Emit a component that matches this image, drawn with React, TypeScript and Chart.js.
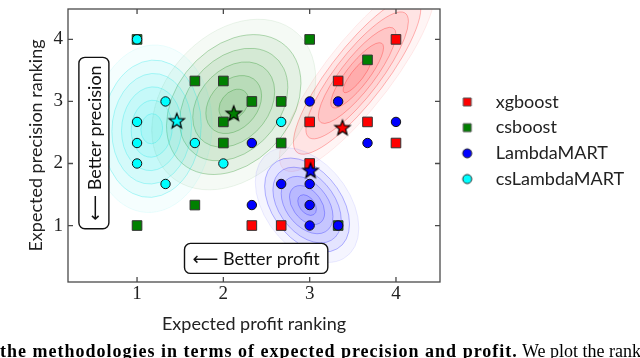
import React, { useEffect, useRef } from 'react';
import { Chart, registerables } from 'chart.js';
Chart.register(...registerables);

// ---------- data ----------
const methodNames = ['xgboost', 'csboost', 'LambdaMART', 'csLambdaMART'];
const methodColors = ['#ff0000', '#008000', '#0000ff', '#00ffff'];
const methodRGB = ['255,0,0', '0,128,0', '0,0,255', '0,230,230'];
const methodShapes = ['rect', 'rect', 'circle', 'circle'];

const xgboostX = [4, 3.33, 3, 3.67, 4, 3, 2.33, 2.67];
const xgboostY = [4, 3.33, 2.67, 2.67, 2.33, 2, 1, 1];
const csboostX = [1.67, 2, 3, 3.67, 2.33, 2.67, 2, 2, 2.67, 1.67, 1, 1, 3.33];
const csboostY = [3.33, 3.33, 4, 3.67, 3, 3, 2.67, 2.33, 2.33, 1.33, 1, 4, 1];
const lambdaMartX = [2.33, 3, 3.33, 4, 3.67, 2.33, 2.67, 3, 3, 3, 3.33];
const lambdaMartY = [2.33, 3, 3, 2.67, 2.33, 1.33, 1.67, 1.67, 1.33, 1, 1];
const csLambdaMartX = [1, 1.33, 1, 1, 1.67, 2.67, 1, 2, 1.33];
const csLambdaMartY = [4, 3, 2.67, 2.33, 2.33, 2.67, 2, 2, 1.67];

// mean positions (stars)
const meanX = [3.38, 2.12, 3.01, 1.46];
const meanY = [2.58, 2.81, 1.89, 2.69];

// density blobs (approximate KDE shapes)
const blobX = [3.55, 2.12, 2.97, 1.17];
const blobY = [3.42, 2.95, 1.33, 2.56];
const blobSdX = [0.36, 0.38, 0.24, 0.28];
const blobSdY = [0.62, 0.55, 0.37, 0.54];
const blobRho = [0.85, 0.3, -0.4, 0.05];
const blobLevels = [2.5, 2.05, 1.65, 1.25, 0.85, 0.45];

const xTicks = [1, 2, 3, 4];
const yTicks = [1, 2, 3, 4];
const xMin = 0.2, xMax = 4.51, yMin = 0.09, yMax = 4.49;

const annotationText = ['\u27F5 Better profit', '\u27F5 Better precision'];
const annotationX = [2.38, 0.5];
const annotationY = [0.47, 2.33];
const annotationRotation = [0, 90];

const seriesX = [xgboostX, csboostX, lambdaMartX, csLambdaMartX];
const seriesY = [xgboostY, csboostY, lambdaMartY, csLambdaMartY];

const LABEL_FONT = 'Lato';
const AREA = { left: 68, right: 440, top: 1, bottom: 282 };
const LEGEND_SHIFT = -5;

function makeMarker(shape: string, color: string, size: number, border: string) {
  const c = document.createElement('canvas');
  const s = Math.ceil(size + 4);
  c.width = s; c.height = s;
  const g = c.getContext('2d')!;
  g.fillStyle = color; g.strokeStyle = border; g.lineWidth = 1;
  g.beginPath();
  if (shape === 'rect') g.rect(s / 2 - size / 2, s / 2 - size / 2, size, size);
  else g.arc(s / 2, s / 2, size / 2, 0, Math.PI * 2);
  g.fill(); g.stroke();
  return c;
}

function makeStar(color: string) {
  const c = document.createElement('canvas');
  c.width = 20; c.height = 20;
  const g = c.getContext('2d')!;
  const R = 8, r = 3.4;
  g.beginPath();
  for (let i = 0; i < 10; i++) {
    const ang = -Math.PI / 2 + (i * Math.PI) / 5;
    const rad = i % 2 === 0 ? R : r;
    const px = 10 + rad * Math.cos(ang), py = 10.6 + rad * Math.sin(ang);
    if (i === 0) g.moveTo(px, py); else g.lineTo(px, py);
  }
  g.closePath();
  g.fillStyle = color; g.fill();
  g.strokeStyle = '#000'; g.lineWidth = 1.2; g.lineJoin = 'miter'; g.stroke();
  return c;
}

const kdePlugin = {
  id: 'kde',
  afterLayout(chart: any) {
    if (chart.legend) {
      chart.legend.top += LEGEND_SHIFT;
      chart.legend.bottom += LEGEND_SHIFT;
    }
  },
  beforeDatasetsDraw(chart: any) {
    const { ctx, chartArea, scales } = chart;
    const sx = scales.x, sy = scales.y;
    const kx = sx.getPixelForValue(1) - sx.getPixelForValue(0);
    const ky = sy.getPixelForValue(0) - sy.getPixelForValue(1);
    ctx.save();
    ctx.beginPath();
    ctx.rect(chartArea.left, chartArea.top, chartArea.width, chartArea.height);
    ctx.clip();
    for (let i = 0; i < blobX.length; i++) {
      const cx = sx.getPixelForValue(blobX[i]);
      const cy = sy.getPixelForValue(blobY[i]);
      const a = blobSdX[i] * kx;
      const b = -blobRho[i] * blobSdY[i] * ky;
      const c = 0;
      const d = -blobSdY[i] * Math.sqrt(1 - blobRho[i] * blobRho[i]) * ky;
      blobLevels.forEach((r, li) => {
        ctx.save();
        ctx.transform(a, b, c, d, cx, cy);
        ctx.beginPath();
        ctx.arc(0, 0, r, 0, Math.PI * 2);
        ctx.restore();
        ctx.fillStyle = `rgba(${methodRGB[i]},${li === 0 ? 0.04 : 0.07})`;
        ctx.fill();
        ctx.strokeStyle = `rgba(${methodRGB[i]},${li === 0 ? 0.08 : 0.28})`;
        ctx.lineWidth = 1;
        ctx.stroke();
      });
    }
    ctx.restore();
  },
};

const framePlugin = {
  id: 'frame',
  afterDraw(chart: any) {
    const { ctx, chartArea, scales } = chart;
    const { left, right, top, bottom } = chartArea;
    ctx.save();
    ctx.strokeStyle = '#4a4a4a';
    ctx.lineWidth = 1.3;
    ctx.strokeRect(left, top, right - left, bottom - top);
    const tl = 5;
    ctx.beginPath();
    xTicks.forEach((v) => {
      const p = scales.x.getPixelForValue(v);
      ctx.moveTo(p, bottom); ctx.lineTo(p, bottom - tl);
      ctx.moveTo(p, top); ctx.lineTo(p, top + tl);
    });
    yTicks.forEach((v) => {
      const p = scales.y.getPixelForValue(v);
      ctx.moveTo(left, p); ctx.lineTo(left + tl, p);
      ctx.moveTo(right, p); ctx.lineTo(right - tl, p);
    });
    ctx.stroke();

    // annotation boxes
    annotationText.forEach((t, i) => {
      const cx = scales.x.getPixelForValue(annotationX[i]);
      const cy = scales.y.getPixelForValue(annotationY[i]);
      ctx.save();
      ctx.translate(cx, cy);
      ctx.rotate((-annotationRotation[i] * Math.PI) / 180);
      ctx.font = `18px ${LABEL_FONT}, "DejaVu Sans"`;
      const w = ctx.measureText(t).width + 16;
      const h = 30;
      ctx.beginPath();
      ctx.roundRect(-w / 2, -h / 2, w, h, 6);
      ctx.fillStyle = '#fff';
      ctx.fill();
      ctx.strokeStyle = '#111';
      ctx.lineWidth = 1.4;
      ctx.stroke();
      ctx.fillStyle = '#111';
      ctx.textAlign = 'center';
      ctx.textBaseline = 'middle';
      ctx.fillText(t, 0, 1);
      ctx.restore();
    });
    ctx.restore();
  },
};

export default function App() {
  const ref = useRef<HTMLCanvasElement | null>(null);
  useEffect(() => {
    const canvas = ref.current!;
    const legendFontSize = 18;
    const legendPadding = 7.7;
    const legendBoxWidth = 39;

    const legendImgs = methodNames.map((_, i) =>
      makeMarker(methodShapes[i], methodColors[i], methodShapes[i] === 'rect' ? 8 : 9, i < 2 ? '#555' : '#222')
    );
    const pointImgsStar = meanX.map((_, i) => makeStar(methodColors[i]));

    const datasets: any[] = methodNames.map((name, i) => ({
      label: name,
      data: seriesX[i].map((x, j) => ({ x, y: seriesY[i][j] })),
      pointStyle: methodShapes[i],
      pointRadius: methodShapes[i] === 'rect' ? 6.8 : 4.7,
      backgroundColor: methodColors[i],
      borderColor: methodShapes[i] === 'rect' ? '#333' : '#111',
      borderWidth: 1,
      order: methodShapes[i] === 'rect' ? 3 : 2,
    }));
    datasets.push({
      label: 'means',
      data: meanX.map((x, j) => ({ x, y: meanY[j] })),
      pointStyle: pointImgsStar,
      pointRadius: 8,
      backgroundColor: methodColors,
      order: 1,
    });

    const padding = { left: 0, right: 20, top: AREA.top, bottom: 14 };

    const chart = new Chart(canvas, {
      type: 'scatter',
      data: { datasets },
      plugins: [kdePlugin, framePlugin],
      options: {
        animation: false,
        responsive: false,
        events: [],
        layout: { padding },
        plugins: {
          tooltip: { enabled: false },
          legend: {
            position: 'right',
            align: 'center',
            fullSize: false,
            maxWidth: 400,
            labels: {
              usePointStyle: true,
              pointStyleWidth: legendBoxWidth,
              padding: legendPadding,
              color: '#222',
              font: { family: LABEL_FONT, size: legendFontSize },
              generateLabels: () =>
                methodNames.map((n, i) => ({
                  text: n,
                  pointStyle: legendImgs[i],
                  fillStyle: methodColors[i],
                  strokeStyle: '#333',
                  lineWidth: 0,
                  hidden: false,
                  datasetIndex: i,
                  fontColor: '#222',
                })),
            },
          },
        },
        scales: {
          x: {
            type: 'linear',
            min: xMin,
            max: xMax,
            afterFit: (s: any) => { s.height = 62; s.paddingLeft = 0; s.paddingRight = 0; },
            afterBuildTicks: (s: any) => { s.ticks = xTicks.map((v) => ({ value: v })); },
            grid: { display: false, drawTicks: false },
            border: { display: false },
            ticks: { padding: 1, color: '#222', font: { family: 'Liberation Serif', size: 19 }, callback: (v: any) => String(v) },
            title: { display: true, text: 'Expected profit ranking', color: '#222', font: { family: LABEL_FONT, size: 18 }, padding: { top: 0, bottom: 9 } },
          },
          y: {
            type: 'linear',
            min: yMin,
            max: yMax,
            afterFit: (s: any) => { s.width = 68; s.paddingTop = 0; s.paddingBottom = 0; },
            afterBuildTicks: (s: any) => { s.ticks = yTicks.map((v) => ({ value: v })); },
            grid: { display: false, drawTicks: false },
            border: { display: false },
            ticks: { padding: 5, color: '#222', font: { family: 'Liberation Serif', size: 19 }, callback: (v: any) => String(v) },
            title: { display: true, text: 'Expected precision ranking', color: '#222', font: { family: LABEL_FONT, size: 18 }, padding: { top: 25, bottom: 0 } },
          },
        },
      } as any,
    });

    // nudge layout padding so the plot area lands on the intended frame
    for (let k = 0; k < 4; k++) {
      const ca = chart.chartArea;
      const dr = ca.right - AREA.right;
      const dt = ca.top - AREA.top;
      const db = AREA.bottom - ca.bottom;
      const dl = ca.left - AREA.left;
      if (Math.abs(dr) < 0.3 && Math.abs(dt) < 0.3 && Math.abs(db) < 0.3 && Math.abs(dl) < 0.3) break;
      padding.right += dr;
      padding.top -= dt;
      padding.bottom -= db;
      padding.left -= dl;
      (chart.options as any).layout.padding = { ...padding };
      chart.update();
    }
    return () => chart.destroy();
  }, []);

  return (
    <div style={{ position: 'absolute', left: 0, top: 0, width: 640, height: 358, overflow: 'hidden', background: '#fff' }}>
      <canvas ref={ref} width={640} height={358} style={{ display: 'block', width: 640, height: 358 }} />
      <div
        style={{
          position: 'absolute', left: 0, top: 341, width: 640, height: 17, overflow: 'hidden',
          whiteSpace: 'nowrap', fontFamily: '"Liberation Serif"', fontSize: 18, lineHeight: '20px', color: '#000',
        }}
      >
        <b style={{ letterSpacing: '1px' }}>the methodologies in terms of expected precision and profit.</b> We plot the ranking
      </div>
    </div>
  );
}
